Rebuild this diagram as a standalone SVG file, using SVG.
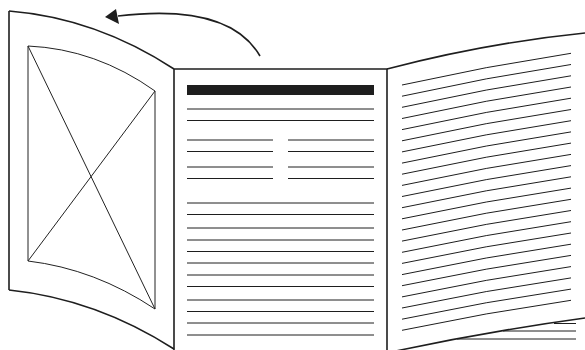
<svg xmlns="http://www.w3.org/2000/svg" width="585" height="350" viewBox="0 0 585 350">
<style>
.edge{fill:none;stroke:#1e1e1e;stroke-width:1.6}
.thin{fill:none;stroke:#222;stroke-width:1}
.txt{stroke:#1e1e1e;stroke-width:1;fill:none}
.arrow{fill:none;stroke:#1e1e1e;stroke-width:1.6}
.head{fill:#1e1e1e}
</style>
<rect width="585" height="350" fill="#fff"/>
<g id="left-page">
<path class="edge" d="M9,11 Q96,18 174,69"/>
<path class="edge" d="M9,11 L9,290"/>
<path class="edge" d="M9,290 Q96,299 174,349"/>
<path class="thin" d="M28,46 Q96,49 155,91"/>
<path class="thin" d="M28,46 L28,261" stroke="#777"/>
<path class="thin" d="M28,261 Q95,269 155,309"/>
<path class="thin" d="M155,91 L155,309"/>
<path class="thin" d="M28,46 L155,309"/>
<path class="thin" d="M155,91 L28,261"/>
</g>
<g id="center-page">
<path class="edge" d="M174,350 L174,69 L387,69 L387,350"/>
<rect x="187" y="85" width="187" height="10" fill="#1e1e1e"/>
<g class="txt">
<path d="M187,109H374M187,120.5H374"/>
<path d="M187,140H273M288,140H374M187,151.5H273M288,151.5H374M187,167H273M288,167H374M187,178.5H273M288,178.5H374"/>
<path d="M187,203H374M187,214.5H374M187,228H374M187,240H374M187,251.5H374M187,263H374M187,275H374M187,286.5H374M187,300H374M187,311.5H374M187,323H374M187,335H374"/>
</g>
</g>
<g id="right-page">
<path class="edge" d="M387,69 Q486,43 585,33"/>
<g class="txt">
<path d="M402,85.0 Q486,66.2 571,53.3"/>
<path d="M402,96.2 Q486,77.4 571,64.5"/>
<path d="M402,107.3 Q486,88.6 571,75.8"/>
<path d="M402,118.5 Q486,99.8 571,87.0"/>
<path d="M402,129.6 Q486,111.0 571,98.2"/>
<path d="M402,140.8 Q486,122.2 571,109.5"/>
<path d="M402,151.9 Q486,133.4 571,120.7"/>
<path d="M402,163.1 Q486,144.6 571,131.9"/>
<path d="M402,174.2 Q486,155.8 571,143.1"/>
<path d="M402,185.4 Q486,167.0 571,154.4"/>
<path d="M402,196.5 Q486,178.2 571,165.6"/>
<path d="M402,207.7 Q486,189.4 571,176.8"/>
<path d="M402,218.8 Q486,200.6 571,188.1"/>
<path d="M402,230.0 Q486,211.8 571,199.3"/>
<path d="M402,241.1 Q486,223.0 571,210.5"/>
<path d="M402,252.3 Q486,234.2 571,221.7"/>
<path d="M402,263.4 Q486,245.4 571,233.0"/>
<path d="M402,274.6 Q486,256.6 571,244.2"/>
<path d="M402,285.7 Q486,267.8 571,255.4"/>
<path d="M402,296.9 Q486,279.0 571,266.6"/>
<path d="M402,308.0 Q486,290.2 571,277.9"/>
<path d="M402,319.2 Q486,301.4 571,289.1"/>
<path d="M402,330.3 Q486,312.6 571,300.3"/>
</g>
<path class="edge" d="M396,351 Q490,331 585,318"/>
<path class="txt" d="M554,323.5H576M503,331H576M457,339H576"/>
</g>
<g id="connectors">
<path class="arrow" d="M260,56 C238,18 185,8 118,16"/>
<path class="head" d="M105,17 L116,9 L119,24 Z"/>
</g>
</svg>
